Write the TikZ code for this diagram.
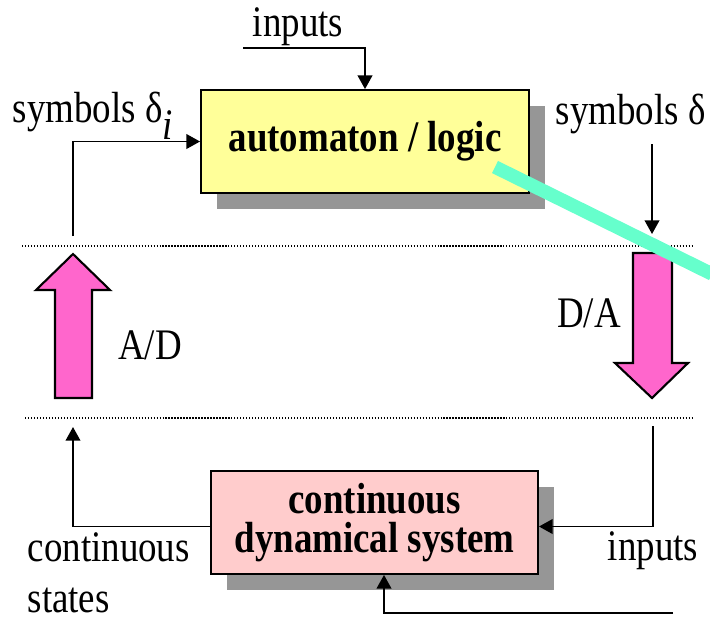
\documentclass[tikz,border=0pt]{standalone}
\usepackage{fontspec}
\setmainfont{Liberation Serif}
\usetikzlibrary{arrows.meta,shadows,positioning}
\definecolor{boxyellow}{HTML}{FFFF99}
\definecolor{boxpink}{HTML}{FFCCCC}
\definecolor{arrowpink}{HTML}{FF66CC}
\definecolor{shadowgray}{HTML}{969696}
\definecolor{barcyan}{HTML}{66FFCC}
% the lettering of the original is a little stretched upwards
\newcommand{\tall}[1]{\scalebox{1}[1.18]{#1}}

\begin{document}
\begin{tikzpicture}[x=0.01cm,y=-0.01cm,
		font=\fontsize{10.5}{12.6}\selectfont,
		blockbox/.style={draw,line width=0.5pt,inner sep=0pt,align=center,
			minimum width=3.28cm,minimum height=1.03cm,
			font=\fontsize{10.5}{11}\selectfont\bfseries,
			drop shadow={shadow xshift=0.16cm,shadow yshift=-0.16cm,fill=shadowgray,opacity=1}},
		conn/.style={line width=0.45pt,-{Triangle[length=3.9pt,width=4.2pt]}},
		level/.style={line width=0.35pt,dash pattern=on 0.35pt off 0.5pt},
		bigarrow/.style={draw,line width=0.6pt,fill=arrowpink,line join=miter}]
		\useasboundingbox (0,0) rectangle (710,617);
		
		% dotted levels between discrete and continuous part
		\draw[level] (22,246) -- (692,246);
		\draw[level] (25,418) -- (692,418);
		
		% the two big conversion arrows
		\draw[bigarrow] (55,398) -- (55,290) -- (36,290) -- (73,254) -- (110,290) -- (92,290) -- (92,398) -- cycle;
		\draw[bigarrow] (633,253) -- (633,363) -- (615,363) -- (652,398) -- (688,363) -- (672,363) -- (672,253) -- cycle;
		
		% blocks
		\node[blockbox,fill=boxyellow] (auto) at (365,141.5) {\tall{automaton / logic}};
		\node[blockbox,fill=boxpink,minimum width=3.27cm] (cds) at (374.5,522.5) {\tall{continuous}\\\tall{dynamical system}};
		
		% free ends of the connectors
		\coordinate (inTop) at (243,48);
		\coordinate (adTop) at (73,236);
		\coordinate (daSrc) at (652,144);
		\coordinate (daEnd) at (652,234);
		\coordinate (inRight) at (653,426);
		\coordinate (stTop) at (73,427);
		\coordinate (inBot) at (673,613);
		
		\draw[conn] (inTop) -| (auto.north);
		\draw[conn] (adTop) |- (auto.west);
		\draw[conn] (daSrc) -- (daEnd);
		\draw[conn] (inRight) |- ([yshift=-0.04cm]cds.east);
		\draw[conn] ([yshift=-0.04cm]cds.west) -| (stTop);
		\draw[conn] (inBot) -| ([xshift=0.095cm]cds.south);
		
		% labels
		\node (inTxt) at (298,27) {\tall{inputs}};
		\node (adTxt) at (150,345) {\tall{A/D}};
		\node (daTxt) at (589,313) {\tall{D/A}};
		\node (inBotTxt) at (653,551) {\tall{inputs}};
		\node[anchor=base west,inner sep=0pt] (symIn) at (12,122) {\tall{symbols δ}\raisebox{-5pt}{\tall{\itshape i}}};
		\node[anchor=base west,inner sep=0pt] (symOut) at (555,124) {\tall{symbols δ}};
		\node[anchor=west,inner sep=0pt,align=left,font=\fontsize{10.5}{14.5}\selectfont] (stTxt) at (27,573) {\tall{continuous}\\\tall{states}};
		
		% highlighting bar
		\draw[barcyan,line width=0.135cm] (495,167) -- (712,274);
\end{tikzpicture}
\end{document}
